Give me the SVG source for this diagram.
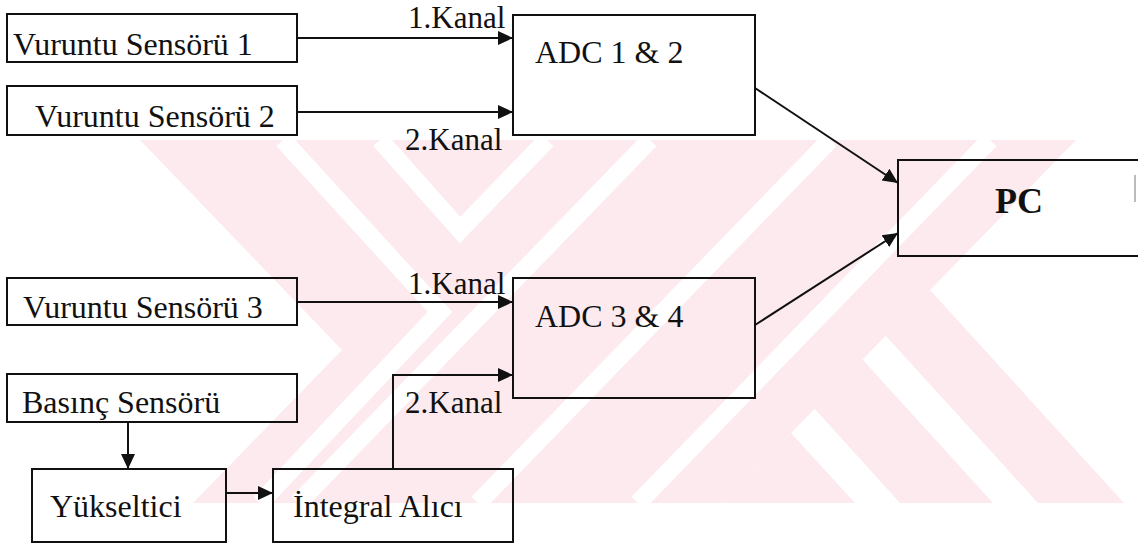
<svg xmlns="http://www.w3.org/2000/svg" width="1138" height="546" viewBox="0 0 1138 546">
<style>
.box{fill:none;stroke:#111;stroke-width:2}
.lbl{font-family:"Liberation Serif","Times New Roman",serif;font-size:32px;fill:#111}
.kan{font-family:"Liberation Serif","Times New Roman",serif;font-size:31px;fill:#111}
.pc{font-family:"Liberation Serif","Times New Roman",serif;font-size:36px;font-weight:bold;fill:#111}
.edge{fill:none;stroke:#111;stroke-width:2;marker-end:url(#ah)}
.wm{fill:#fdeaee}
.wl{fill:none;stroke:#fff;stroke-width:18;stroke-linejoin:miter}
</style>
<defs>
<marker id="ah" markerUnits="userSpaceOnUse" markerWidth="16" markerHeight="16" viewBox="0 0 16 16" refX="15" refY="8" orient="auto">
<path d="M0,1 L15,8 L0,15 Z" fill="#111"/>
</marker>
<clipPath id="wmclip"><rect x="140" y="140" width="998" height="363"/></clipPath>
</defs>
<rect width="1138" height="546" fill="#fff"/>
<g id="watermark" clip-path="url(#wmclip)">
<polygon class="wm" points="140,140 1076,140 723,503 193,503 342,350"/>
<polygon class="wm" points="930,290 1124,503 1038,503 885,335"/>
<polygon class="wm" points="862,359 993,503 900,503 814,408"/>
<polygon class="wm" points="791,433 855,503 723,503"/>
<polyline class="wl" points="283,140 440,312 260,503"/>
<polyline class="wl" points="380,140 460,230 547,140"/>
<line class="wl" x1="650" y1="140" x2="298" y2="503"/>
<line class="wl" x1="830" y1="140" x2="478" y2="503"/>
<line class="wl" x1="990" y1="140" x2="638" y2="503"/>
</g>
<g id="connectors">
<line class="edge" x1="297" y1="38" x2="513" y2="38"/>
<line class="edge" x1="297" y1="112" x2="513" y2="112"/>
<line class="edge" x1="297" y1="302" x2="513" y2="302"/>
<line class="edge" x1="128" y1="422" x2="128" y2="469"/>
<line class="edge" x1="226" y1="493" x2="273" y2="493"/>
<polyline class="edge" points="393,469 393,375 513,375"/>
<line class="edge" x1="755" y1="88" x2="898" y2="183"/>
<line class="edge" x1="755" y1="325" x2="898" y2="233"/>
<text class="kan" x="408" y="28">1.Kanal</text>
<text class="kan" x="405" y="150">2.Kanal</text>
<text class="kan" x="408" y="294">1.Kanal</text>
<text class="kan" x="405" y="413">2.Kanal</text>
</g>
<g id="vs1"><rect class="box" x="7" y="14" width="290" height="48"/><text class="lbl" x="13" y="55">Vuruntu Sensörü 1</text></g>
<g id="vs2"><rect class="box" x="7" y="86" width="290" height="49"/><text class="lbl" x="35" y="127">Vuruntu Sensörü 2</text></g>
<g id="adc12"><rect class="box" x="513" y="15" width="242" height="120"/><text class="lbl" x="535" y="63">ADC 1 &amp; 2</text></g>
<g id="pc"><rect class="box" x="898" y="160" width="250" height="96"/><line x1="1135" y1="175" x2="1135" y2="202" stroke="#bbb" stroke-width="2"/><text class="pc" x="995" y="213">PC</text></g>
<g id="vs3"><rect class="box" x="7" y="278" width="290" height="47"/><text class="lbl" x="23" y="318">Vuruntu Sensörü 3</text></g>
<g id="basinc"><rect class="box" x="7" y="374" width="290" height="48"/><text class="lbl" x="22" y="413">Basınç Sensörü</text></g>
<g id="yukseltici"><rect class="box" x="32" y="469" width="194" height="73"/><text class="lbl" x="50" y="517">Yükseltici</text></g>
<g id="integral"><rect class="box" x="273" y="469" width="240" height="73"/><text class="lbl" x="293" y="517">İntegral Alıcı</text></g>
<g id="adc34"><rect class="box" x="513" y="278" width="242" height="120"/><text class="lbl" x="535" y="327">ADC 3 &amp; 4</text></g>
</svg>
